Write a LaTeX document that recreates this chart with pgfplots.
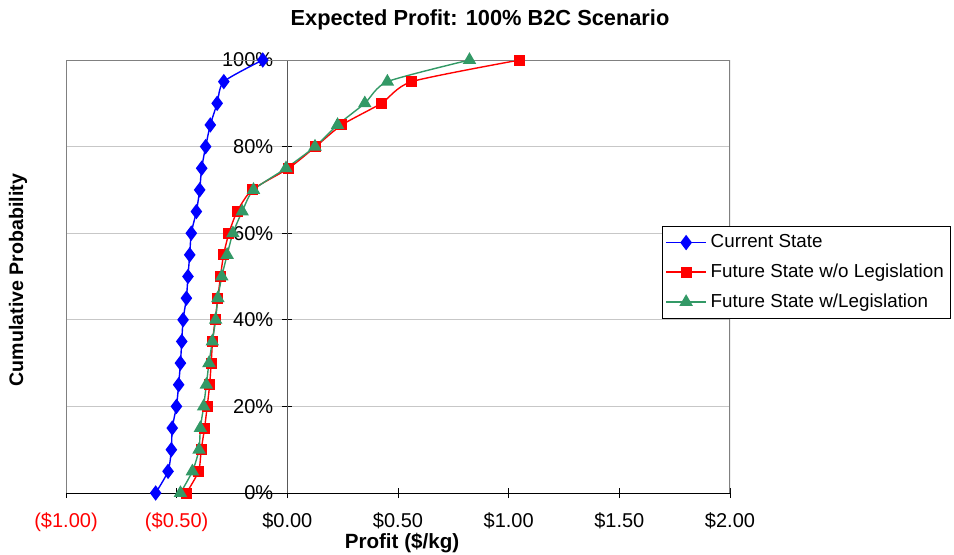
\documentclass[border=0pt]{standalone}
\usepackage{pgfplots}
\pgfplotsset{compat=1.18}
\usepackage{fontspec}
\setmainfont{Liberation Sans}
\definecolor{seagreen}{RGB}{51,153,102}
\begin{document}
\begin{tikzpicture}
\path (0,0) rectangle (477pt,277pt);
\begin{axis}[
    at={(33pt,30.5pt)}, anchor=south west,
    scale only axis, width=332pt, height=216.5pt,
    xmin=-1, xmax=2, ymin=0, ymax=1,
    axis x line=bottom, axis y line=center,
    axis line style={-},
    x axis line style={black},
    y axis line style={black!65},
    hide obscured x ticks=false, hide obscured y ticks=false,
    xtick={-1,-0.5,0,0.5,1,1.5,2},
    xticklabels={\textcolor{red}{(\$1.00)},\textcolor{red}{(\$0.50)},\$0.00,\$0.50,\$1.00,\$1.50,\$2.00},
    ytick={0,0.2,0.4,0.6,0.8,1},
    yticklabels={0\%,20\%,40\%,60\%,80\%,100\%},
    tick align=center, major tick length=5pt,
    tick style={black, line width=0.5pt},
    xticklabel style={font=\fontsize{10}{12}\selectfont, yshift=-4pt},
    yticklabel style={font=\fontsize{10}{12}\selectfont, xshift=-1pt},
    ymajorgrids, grid style={black!22, line width=0.5pt},
    legend cell align=left,
    legend style={at={(0.8976,0.6166)}, anchor=north west, draw=black, line width=0.5pt,
        font=\fontsize{9.4}{11}\selectfont, row sep=2.6pt, inner xsep=1.5pt, inner ysep=2pt},
    legend image code/.code={
        \draw[mark repeat=2,mark phase=2] plot coordinates {(0cm,0cm) (0.35cm,0cm) (0.7cm,0cm)};},
    every axis plot/.append style={line width=0.7pt, smooth, tension=0.4},
]
\addplot[blue, mark=diamond*, mark size=3.3pt, mark options={solid}] coordinates {
(-0.595,0) (-0.539,0.05) (-0.524,0.1) (-0.520,0.15) (-0.501,0.2) (-0.491,0.25)
(-0.483,0.3) (-0.477,0.35) (-0.471,0.4) (-0.456,0.45) (-0.449,0.5) (-0.441,0.55)
(-0.434,0.6) (-0.411,0.65) (-0.396,0.7) (-0.387,0.75) (-0.369,0.8) (-0.348,0.85)
(-0.317,0.9) (-0.287,0.95) (-0.111,1)};
\addlegendentry{Current State}
\addplot[red, mark=square*, mark size=2.4pt] coordinates {
(-0.456,0) (-0.401,0.05) (-0.389,0.1) (-0.374,0.15) (-0.362,0.2) (-0.351,0.25)
(-0.344,0.3) (-0.338,0.35) (-0.326,0.4) (-0.314,0.45) (-0.302,0.5) (-0.288,0.55)
(-0.264,0.6) (-0.227,0.65) (-0.159,0.7) (0.006,0.75) (0.128,0.8) (0.246,0.85)
(0.425,0.9) (0.562,0.95) (1.050,1)};
\addlegendentry{Future State w/o Legislation}
\addplot[seagreen, mark=triangle*, mark size=3.2pt] coordinates {
(-0.483,0) (-0.429,0.05) (-0.399,0.1) (-0.393,0.15) (-0.378,0.2) (-0.366,0.25)
(-0.354,0.3) (-0.339,0.35) (-0.324,0.4) (-0.314,0.45) (-0.296,0.5) (-0.272,0.55)
(-0.246,0.6) (-0.204,0.65) (-0.153,0.7) (-0.006,0.75) (0.125,0.8) (0.227,0.85)
(0.350,0.9) (0.452,0.95) (0.823,1)};
\addlegendentry{Future State w/Legislation}
\draw[black!50, line width=0.8pt] (rel axis cs:0,0) -- (rel axis cs:0,1) -- (rel axis cs:1,1) -- (rel axis cs:1,0);
\end{axis}
\node[font=\bfseries\fontsize{10.9}{12}\selectfont] at (240pt,267pt) {Expected Profit: 100\% B2C Scenario};
\node[font=\bfseries\fontsize{9.8}{11}\selectfont, rotate=90] at (9pt,137pt) {Cumulative Probability};
\node[font=\bfseries\fontsize{10.3}{11}\selectfont, inner sep=1pt] at (201pt,5.5pt) {Profit (\$/kg)};
\end{tikzpicture}
\end{document}
